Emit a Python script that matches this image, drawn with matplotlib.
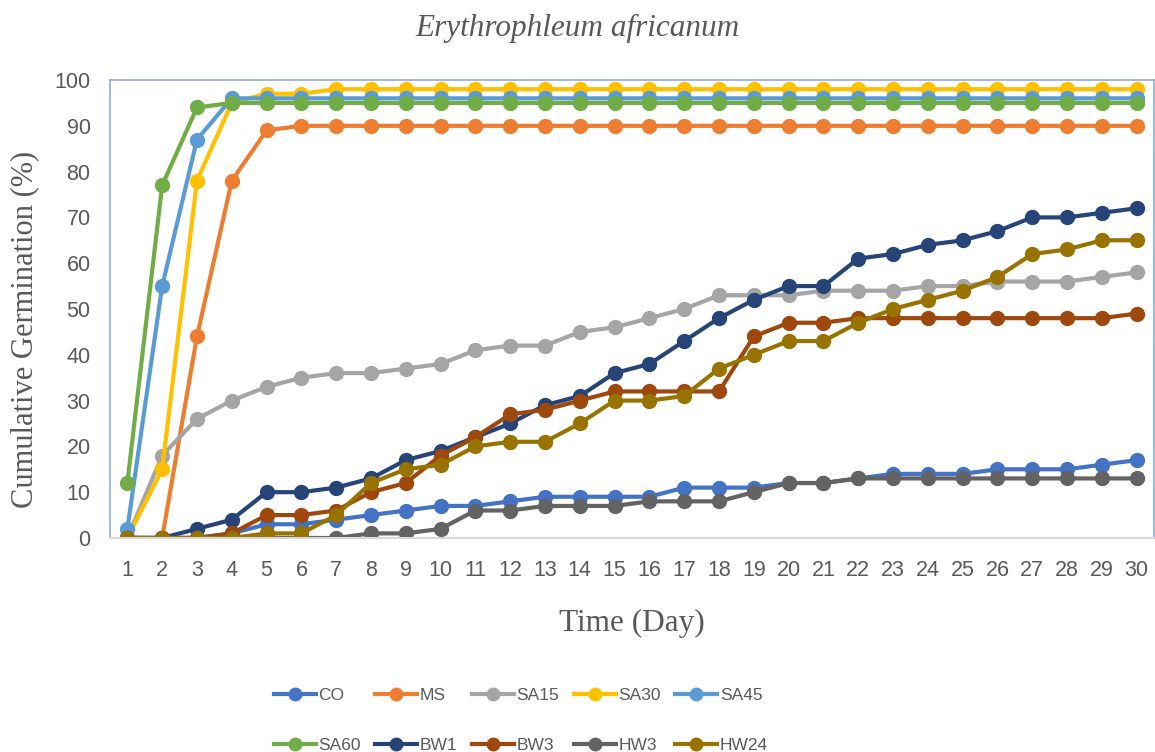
import numpy as np
import matplotlib.pyplot as plt
from matplotlib.lines import Line2D

days = list(range(1, 31))

co = [0, 0, 0, 1, 3, 3, 4, 5, 6, 7, 7, 8, 9, 9, 9, 9, 11, 11, 11, 12,
      12, 13, 14, 14, 14, 15, 15, 15, 16, 17]
ms = [0, 0, 44, 78, 89, 90, 90, 90, 90, 90, 90, 90, 90, 90, 90, 90, 90, 90, 90, 90,
      90, 90, 90, 90, 90, 90, 90, 90, 90, 90]
sa15 = [0, 18, 26, 30, 33, 35, 36, 36, 37, 38, 41, 42, 42, 45, 46, 48, 50, 53, 53, 53,
        54, 54, 54, 55, 55, 56, 56, 56, 57, 58]
sa30 = [0, 15, 78, 95, 97, 97, 98, 98, 98, 98, 98, 98, 98, 98, 98, 98, 98, 98, 98, 98,
        98, 98, 98, 98, 98, 98, 98, 98, 98, 98]
sa45 = [2, 55, 87, 96, 96, 96, 96, 96, 96, 96, 96, 96, 96, 96, 96, 96, 96, 96, 96, 96,
        96, 96, 96, 96, 96, 96, 96, 96, 96, 96]
sa60 = [12, 77, 94, 95, 95, 95, 95, 95, 95, 95, 95, 95, 95, 95, 95, 95, 95, 95, 95, 95,
        95, 95, 95, 95, 95, 95, 95, 95, 95, 95]
bw1 = [0, 0, 2, 4, 10, 10, 11, 13, 17, 19, 22, 25, 29, 31, 36, 38, 43, 48, 52, 55,
       55, 61, 62, 64, 65, 67, 70, 70, 71, 72]
bw3 = [0, 0, 0, 1, 5, 5, 6, 10, 12, 18, 22, 27, 28, 30, 32, 32, 32, 32, 44, 47,
       47, 48, 48, 48, 48, 48, 48, 48, 48, 49]
hw3 = [0, 0, 0, 0, 0, 0, 0, 1, 1, 2, 6, 6, 7, 7, 7, 8, 8, 8, 10, 12,
       12, 13, 13, 13, 13, 13, 13, 13, 13, 13]
hw24 = [0, 0, 0, 0, 1, 1, 5, 12, 15, 16, 20, 21, 21, 25, 30, 30, 31, 37, 40, 43,
        43, 47, 50, 52, 54, 57, 62, 63, 65, 65]

names = ["CO", "MS", "SA15", "SA30", "SA45", "SA60", "BW1", "BW3", "HW3", "HW24"]
series = [co, ms, sa15, sa30, sa45, sa60, bw1, bw3, hw3, hw24]
colors = ["#4472C4", "#ED7D31", "#A5A5A5", "#FFC000", "#5B9BD5",
          "#70AD47", "#264478", "#9E480E", "#636363", "#997300"]

text_grey = "#595959"
serif = ["Liberation Serif", "DejaVu Serif"]
sans = ["Liberation Sans", "DejaVu Sans"]

fig = plt.figure(figsize=(11.55, 7.52), dpi=100)
ax = fig.add_axes([0.0952, 0.2846, 0.9040, 0.6090])

for vals, name, c in zip(series, names, colors):
    ax.plot(days, vals, color=c, lw=3, marker="o", ms=10, label=name,
            solid_capstyle="round")

ax.set_xlim(0.5, 30.5)
ax.set_ylim(0, 100)
ax.set_xticks(days)
ax.set_yticks(range(0, 101, 10))
ax.tick_params(axis="x", length=0, labelcolor=text_grey, labelsize=15.5, pad=16)
ax.tick_params(axis="y", length=0, labelcolor=text_grey, labelsize=15.5, pad=14)
for lab in ax.get_xticklabels() + ax.get_yticklabels():
    lab.set_family(sans)

for side in ["top", "left", "right"]:
    ax.spines[side].set_color("#8FAADC")
    ax.spines[side].set_linewidth(1.2)
ax.spines["bottom"].set_color("#D9D9D9")
ax.spines["bottom"].set_linewidth(1.5)

ax.set_xlabel("Time (Day)", family=serif, fontsize=22.5, color=text_grey, labelpad=20)
ax.set_ylabel("Cumulative Germination (%)", family=serif, fontsize=22,
              color=text_grey)
ax.yaxis.set_label_coords(-0.068, 0.456)
fig.text(0.5, 0.962, "Erythrophleum africanum", family=serif, style="italic",
         fontsize=22.5, color=text_grey, ha="center", va="center")

# legend in row order: reorder for column-major filling
handles = [Line2D([], [], color=c, lw=3, marker="o", ms=9) for c in colors]
order = [0, 5, 1, 6, 2, 7, 3, 8, 4, 9]
leg = fig.legend([handles[i] for i in order], [names[i] for i in order],
                 loc="center", bbox_to_anchor=(0.451, 0.042), ncol=5, frameon=False,
                 prop={"family": sans, "size": 12.5}, handlelength=2.4,
                 handletextpad=0.15, columnspacing=0.85, labelspacing=2.0)
for t in leg.get_texts():
    t.set_color(text_grey)

fig.savefig("out.png", dpi=100)
